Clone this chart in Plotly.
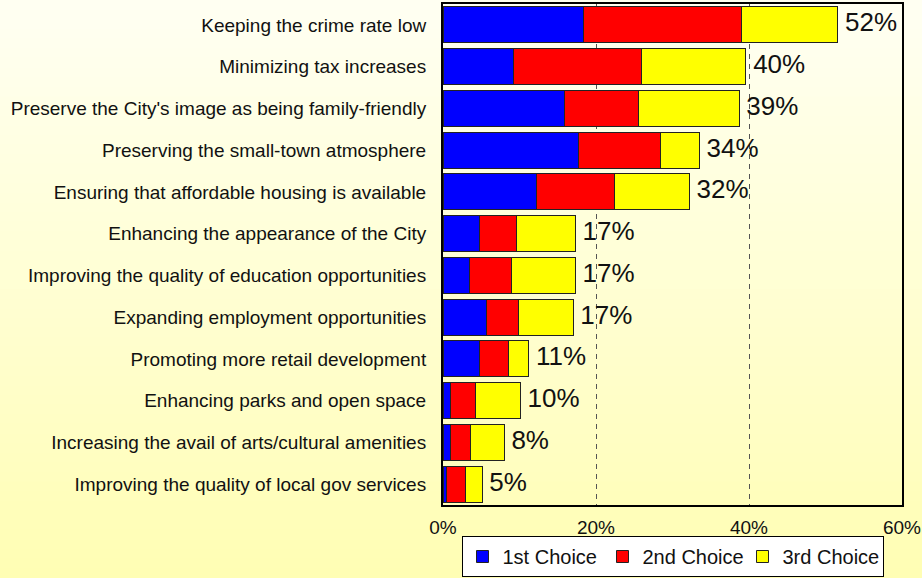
import plotly.graph_objects as go

categories = [
    "Keeping the crime rate low",
    "Minimizing tax increases",
    "Preserve the City's image as being family-friendly",
    "Preserving the small-town atmosphere",
    "Ensuring that affordable housing is available",
    "Enhancing the appearance of the City",
    "Improving the quality of education opportunities",
    "Expanding employment opportunities",
    "Promoting more retail development",
    "Enhancing parks and open space",
    "Increasing the avail of arts/cultural amenities",
    "Improving the quality of local gov services",
]
first_choice = [18.3, 9.2, 15.9, 17.7, 12.2, 4.8, 3.5, 5.7, 4.8, 1.0, 1.0, 0.4]
second_choice = [20.7, 16.8, 9.6, 10.7, 10.2, 4.8, 5.5, 4.2, 3.8, 3.3, 2.6, 2.6]
third_choice = [12.6, 13.6, 13.2, 5.1, 9.8, 7.7, 8.3, 7.1, 2.6, 5.8, 4.4, 2.1]
total_labels = ["52%", "40%", "39%", "34%", "32%", "17%", "17%", "17%", "11%", "10%", "8%", "5%"]
x_ticks = [0, 20, 40, 60]
x_tick_labels = ["0%", "20%", "40%", "60%"]

W, H = 922, 578
ML, MR, MT, MB = 443, 20, 4, 73
FONT = "Arial, Liberation Sans, sans-serif"

totals = [a + b + c for a, b, c in zip(first_choice, second_choice, third_choice)]

fig = go.Figure()
for name, vals, col in [("1st Choice", first_choice, "#0000FF"),
                        ("2nd Choice", second_choice, "#FF0000"),
                        ("3rd Choice", third_choice, "#FFFF00")]:
    fig.add_trace(go.Bar(
        y=categories, x=vals, name=name, orientation="h",
        marker=dict(color=col, line=dict(color="#222222", width=1)),
        hoverinfo="x+name",
    ))

fig.add_trace(go.Scatter(
    y=categories, x=totals, mode="text", text=[" " + t for t in total_labels],
    textposition="middle right", showlegend=False,
    textfont=dict(size=26, color="#111111", family=FONT), cliponaxis=False,
))

# gradient background bands (paper coordinates)
pw = W - ML - MR
ph = H - MT - MB
n = 60
top = (255, 255, 242)
bot = (255, 254, 180)
shapes = []
y_top = 1 + MT / ph
y_bot = -MB / ph
for i in range(n):
    t = i / (n - 1)
    c = tuple(round(top[k] + (bot[k] - top[k]) * t) for k in range(3))
    y1 = y_top - (y_top - y_bot) * i / n
    y0 = y_top - (y_top - y_bot) * (i + 1) / n - 0.002
    shapes.append(dict(type="rect", xref="paper", yref="paper",
                       x0=-ML / pw - 0.01, x1=1 + MR / pw + 0.01, y0=y0, y1=y1,
                       fillcolor="rgb(%d,%d,%d)" % c, line=dict(width=0), layer="below"))

fig.update_layout(
    width=W, height=H,
    margin=dict(l=ML, r=MR, t=MT, b=MB, autoexpand=False),
    barmode="stack", bargap=0.14,
    paper_bgcolor="#FFFFD8", plot_bgcolor="#FFFFFF",
    font=dict(family=FONT, size=19, color="#111111"),
    shapes=shapes,
    legend=dict(orientation="h", x=0.5, xanchor="center", yref="container",
                y=(H - 577) / H, yanchor="bottom", traceorder="normal",
                bgcolor="#FFFFFF", bordercolor="#000000", borderwidth=1,
                font=dict(size=20, color="#111111", family=FONT),
                itemwidth=30, tracegroupgap=0, entrywidth=95),
    showlegend=True,
)
fig.update_xaxes(range=[0, 60], tickvals=x_ticks, ticktext=x_tick_labels,
                 showgrid=True, gridcolor="#555555", griddash="5px,5px", gridwidth=1,
                 zeroline=False, showline=True, linecolor="#000000", linewidth=2,
                 mirror=True, ticks="", ticklabelstandoff=4,
                 tickfont=dict(size=19, color="#111111"))
fig.update_yaxes(autorange=False, range=[len(categories) - 0.5, -0.5],
                 showgrid=False, showline=True,
                 linecolor="#000000", linewidth=2, mirror=True, ticks="",
                 ticklabelstandoff=11, tickfont=dict(size=19, color="#111111"))

fig.write_html("out.html", config={"displayModeBar": False},
               post_script="document.body.style.margin='0';")
